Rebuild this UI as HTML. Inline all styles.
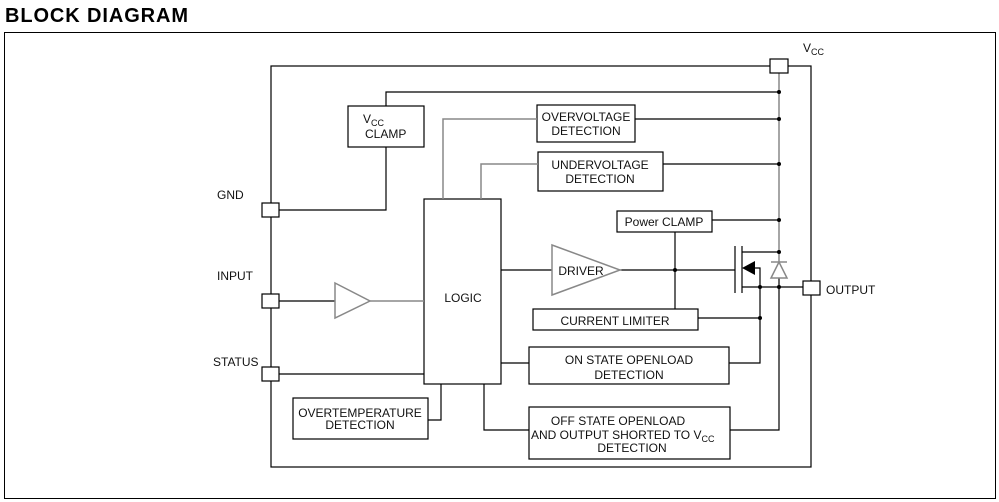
<!DOCTYPE html>
<html><head><meta charset="utf-8"><style>
html,body{margin:0;padding:0;background:#fff;}
svg{display:block;}
text{font-family:"Liberation Sans",Arial,sans-serif;fill:#111;font-size:12px;}
</style></head><body>
<svg width="999" height="502" viewBox="0 0 999 502">
<text x="5" y="22" style="font-size:20px;font-weight:bold;fill:#000;letter-spacing:0.9px">BLOCK DIAGRAM</text>
<rect x="4.5" y="32.5" width="991" height="466" fill="none" stroke="#000" stroke-width="1"/>
<g fill="none" stroke="#000" stroke-width="1.2">
<rect x="271" y="66" width="540" height="401"/>
<rect x="348" y="106" width="76" height="41"/>
<polyline points="386,106 386,92 779,92"/>
<polyline points="386,147 386,210 279,210"/>
<rect x="537" y="105" width="98" height="37"/>
<rect x="538" y="152" width="125" height="39"/>
<line x1="635" y1="119" x2="779" y2="119"/>
<line x1="663" y1="164" x2="779" y2="164"/>
<rect x="424" y="199" width="77" height="185"/>
<rect x="617" y="211" width="95" height="21"/>
<line x1="712" y1="220" x2="779" y2="220"/>
<line x1="675" y1="232" x2="675" y2="309"/>
<line x1="501" y1="270" x2="552" y2="270"/>
<line x1="620" y1="270" x2="735" y2="270"/>
<line x1="735" y1="246" x2="735" y2="293"/>
<line x1="742" y1="246" x2="742" y2="293"/>
<polyline points="742,252 779,252"/>
<polyline points="742,287 803,287"/>
<polyline points="755,268 760,268 760,363 729,363"/>
<rect x="533" y="309" width="165" height="21"/>
<line x1="698" y1="318" x2="760" y2="318"/>
<line x1="279" y1="374" x2="424" y2="374"/>
<line x1="279" y1="301" x2="335" y2="301"/>
<rect x="529" y="347" width="200" height="37"/>
<line x1="501" y1="363" x2="529" y2="363"/>
<rect x="529" y="407" width="201" height="52"/>
<polyline points="484,384 484,430 529,430"/>
<polyline points="730,430 779,430 779,278"/>
<rect x="293" y="398" width="135" height="41"/>
<polyline points="428,420 441,420 441,384"/>
</g>
<g fill="none" stroke="#888" stroke-width="1.5">
<line x1="779" y1="73" x2="779" y2="262"/>
<polyline points="537,119 443,119 443,199"/>
<polyline points="538,164 481,164 481,199"/>
<line x1="370" y1="301" x2="424" y2="301"/>
<polygon points="335,283 370,301 335,318"/>
<polygon points="552,245 620,270 552,295"/>
<polygon points="779,262 771,278 787,278"/>
<line x1="771" y1="262" x2="787" y2="262"/>
</g>
<polygon points="742,268 755,261 755,275" fill="#000"/>
<g fill="#fff" stroke="#000" stroke-width="1.2">
<rect x="770" y="59" width="18" height="14"/>
<rect x="803" y="281" width="17" height="14"/>
<rect x="262" y="203" width="17" height="14"/>
<rect x="262" y="294" width="17" height="14"/>
<rect x="262" y="367" width="17" height="14"/>
</g>
<g fill="#000">
<circle cx="779" cy="92" r="2"/><circle cx="779" cy="119" r="2"/><circle cx="779" cy="164" r="2"/>
<circle cx="779" cy="220" r="2"/><circle cx="779" cy="252" r="2"/><circle cx="779" cy="287" r="2"/>
<circle cx="760" cy="287" r="2"/><circle cx="760" cy="318" r="2"/><circle cx="675" cy="270" r="2"/>
</g>
<text x="803" y="52">V<tspan font-size="9" dy="3">CC</tspan></text>
<text x="826" y="294">OUTPUT</text>
<text x="217" y="199">GND</text>
<text x="217" y="280">INPUT</text>
<text x="213" y="366">STATUS</text>
<text x="363" y="123">V<tspan font-size="9" dy="3">CC</tspan></text>
<text x="365" y="138">CLAMP</text>
<text x="586" y="121" text-anchor="middle">OVERVOLTAGE</text>
<text x="586" y="135" text-anchor="middle">DETECTION</text>
<text x="600" y="169" text-anchor="middle">UNDERVOLTAGE</text>
<text x="600" y="183" text-anchor="middle">DETECTION</text>
<text x="664" y="226" text-anchor="middle">Power CLAMP</text>
<text x="581" y="275" text-anchor="middle">DRIVER</text>
<text x="463" y="302" text-anchor="middle">LOGIC</text>
<text x="615" y="325" text-anchor="middle">CURRENT LIMITER</text>
<text x="629" y="364" text-anchor="middle">ON STATE OPENLOAD</text>
<text x="629" y="379" text-anchor="middle">DETECTION</text>
<text x="618" y="425" text-anchor="middle">OFF STATE OPENLOAD</text>
<text x="531" y="439">AND OUTPUT SHORTED TO V<tspan font-size="9" dy="3">CC</tspan></text>
<text x="632" y="452" text-anchor="middle">DETECTION</text>
<text x="360" y="417" text-anchor="middle">OVERTEMPERATURE</text>
<text x="360" y="429" text-anchor="middle">DETECTION</text>
</svg>
</body></html>
